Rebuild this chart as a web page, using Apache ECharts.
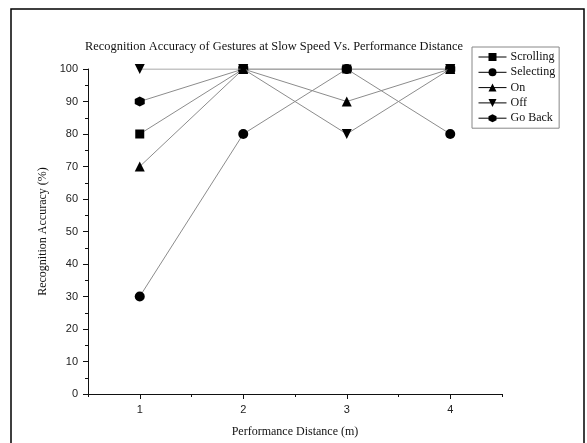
<!DOCTYPE html>
<html>
<head>
<meta charset="utf-8">
<script src="https://cdn.jsdelivr.net/npm/echarts@6/dist/echarts.min.js"></script>
<style>
  html, body { margin: 0; padding: 0; background: #fff; }
  #chart { width: 587px; height: 443px; }
</style>
</head>
<body>
<div id="chart"></div>
<script>
  var distances = [1, 2, 3, 4]
  var scrolling = [80, 100, 100, 100]
  var selecting = [30, 80, 100, 80]
  var onGesture = [70, 100, 90, 100]
  var offGesture = [100, 100, 80, 100]
  var goBack = [90, 100, 100, 100]
  var yTicks = [0, 10, 20, 30, 40, 50, 60, 70, 80, 90, 100]
  var xMinorTicks = [0.5, 1.5, 2.5, 3.5, 4.5]

  var hexagon = 'path://M0,-10L8.66,-5L8.66,5L0,10L-8.66,5L-8.66,-5Z'
  var downTriangle = 'path://M0,10L-8.66,-5L8.66,-5Z'
  var serif = '"Liberation Serif", "DejaVu Serif", serif'
  var sans = '"Liberation Sans", Arial, sans-serif'

  function pairs(ys) {
    return distances.map(function (x, i) { return [x, ys[i]] })
  }

  function makeSeries(name, ys, symbol, size, z) {
    return {
      name: name,
      type: 'line',
      data: pairs(ys),
      symbol: symbol,
      symbolSize: size,
      z: z,
      lineStyle: { color: '#8c8c8c', width: 1 },
      itemStyle: { color: '#000' },
      emphasis: { disabled: true },
      animation: false
    }
  }

  var chart = echarts.init(document.getElementById('chart'))
  var option = {
    backgroundColor: '#fff',
    animation: false,
    graphic: [{
      type: 'rect',
      shape: { x: 11, y: 9, width: 573, height: 450 },
      style: { fill: 'none', stroke: '#000', lineWidth: 1.5 },
      silent: true
    }],
    title: {
      text: 'Recognition Accuracy of Gestures at Slow Speed Vs. Performance Distance',
      left: 269,
      textAlign: 'center',
      top: 36,
      textStyle: { fontFamily: serif, fontSize: 12.4, fontWeight: 'normal', color: '#111' }
    },
    legend: {
      orient: 'vertical',
      left: 472,
      top: 47,
      padding: [4, 4, 4, 6],
      borderColor: '#888',
      borderWidth: 1,
      itemWidth: 28,
      itemHeight: 10,
      itemGap: 3.3,
      lineStyle: { color: '#000', width: 1 },
      textStyle: { fontFamily: serif, fontSize: 12, color: '#111', padding: [0, 0, 0, -1] },
      data: ['Scrolling', 'Selecting', 'On', 'Off', 'Go Back']
    },
    grid: { left: 88, right: 85, top: 69, bottom: 45 },
    xAxis: [{
      type: 'value',
      min: 0.5,
      max: 4.5,
      name: 'Performance Distance (m)',
      nameLocation: 'middle',
      nameGap: 32,
      nameTextStyle: { fontFamily: serif, fontSize: 12, color: '#111' },
      axisLine: { lineStyle: { color: '#111', width: 1 } },
      axisTick: { customValues: distances, length: 5, lineStyle: { color: '#111' } },
      axisLabel: { customValues: distances, margin: 10, fontFamily: sans, fontSize: 11, color: '#222' },
      splitLine: { show: false }
    }, {
      type: 'value',
      min: 0.5,
      max: 4.5,
      position: 'bottom',
      axisLine: { show: false },
      axisTick: { customValues: xMinorTicks, length: 3, lineStyle: { color: '#111' } },
      axisLabel: { show: false },
      splitLine: { show: false }
    }],
    yAxis: {
      type: 'value',
      min: 0,
      max: 100,
      interval: 10,
      name: 'Recognition Accuracy (%)',
      nameLocation: 'middle',
      nameGap: 39,
      nameTextStyle: { fontFamily: serif, fontSize: 12, color: '#111' },
      axisLine: { show: true, lineStyle: { color: '#111', width: 1 } },
      axisTick: { show: true, customValues: yTicks, length: 5, lineStyle: { color: '#111' } },
      minorTick: { show: true, splitNumber: 2, length: 3, lineStyle: { color: '#111' } },
      axisLabel: { customValues: yTicks, margin: 10, fontFamily: sans, fontSize: 11, color: '#222' },
      splitLine: { show: false },
      minorSplitLine: { show: false }
    },
    series: [
      makeSeries('Scrolling', scrolling, 'rect', 9, 2),
      makeSeries('Selecting', selecting, 'circle', 10, 2),
      makeSeries('On', onGesture, 'triangle', 10, 4),
      makeSeries('Off', offGesture, downTriangle, 10, 4),
      makeSeries('Go Back', goBack, hexagon, 10, 3)
    ]
  }
  chart.setOption(option)
</script>
</body>
</html>
